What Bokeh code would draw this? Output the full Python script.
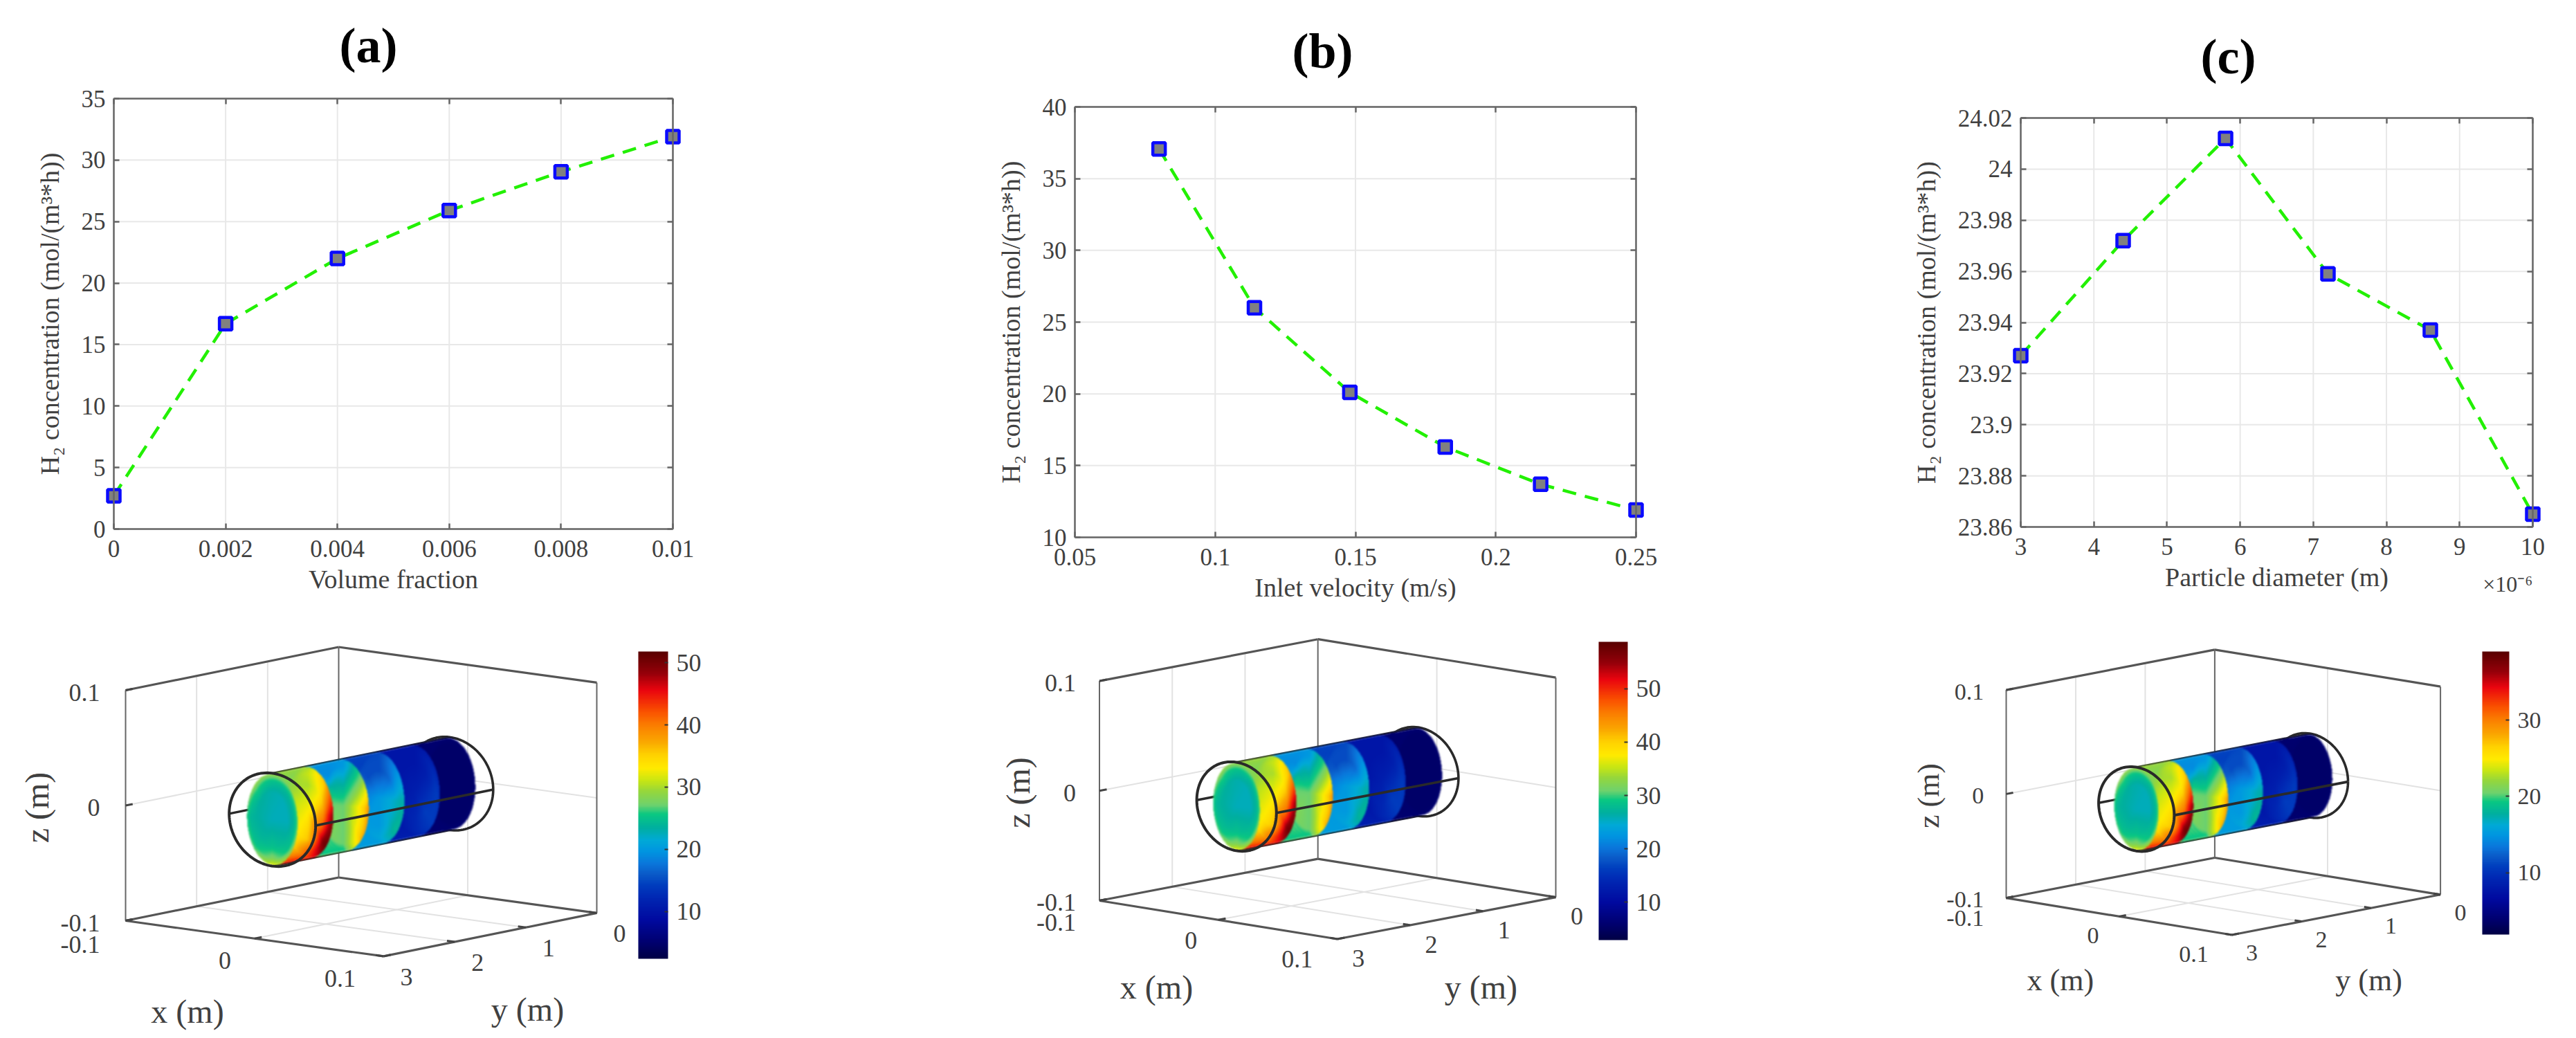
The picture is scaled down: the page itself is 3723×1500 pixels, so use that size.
import numpy as np
from bokeh.embed import file_html
from bokeh.resources import INLINE
from bokeh.core.properties import value
from bokeh.layouts import column, row
from bokeh.models import ColorBar, FixedTicker, LinearAxis, LinearColorMapper, Range1d
from bokeh.plotting import figure

# ---------- data: line charts ----------
volume_fraction = [0, 0.002, 0.004, 0.006, 0.008, 0.01]
conc_a = [2.7, 16.7, 22.0, 25.9, 29.05, 31.9]
xticks_a = [0, 0.002, 0.004, 0.006, 0.008, 0.01]
xlabels_a = ["0", "0.002", "0.004", "0.006", "0.008", "0.01"]
yticks_a = [0, 5, 10, 15, 20, 25, 30, 35]
ylabels_a = ["0", "5", "10", "15", "20", "25", "30", "35"]

inlet_velocity = [0.08, 0.114, 0.148, 0.182, 0.216, 0.25]
conc_b = [37.07, 26.0, 20.1, 16.3, 13.7, 11.9]
xticks_b = [0.05, 0.1, 0.15, 0.2, 0.25]
xlabels_b = ["0.05", "0.1", "0.15", "0.2", "0.25"]
yticks_b = [10, 15, 20, 25, 30, 35, 40]
ylabels_b = ["10", "15", "20", "25", "30", "35", "40"]

particle_diameter = [3, 4.4, 5.8, 7.2, 8.6, 10]
conc_c = [23.927, 23.972, 24.012, 23.959, 23.937, 23.865]
xticks_c = [3, 4, 5, 6, 7, 8, 9, 10]
xlabels_c = ["3", "4", "5", "6", "7", "8", "9", "10"]
yticks_c = [23.86, 23.88, 23.9, 23.92, 23.94, 23.96, 23.98, 24, 24.02]
ylabels_c = ["23.86", "23.88", "23.9", "23.92", "23.94", "23.96", "23.98", "24", "24.02"]

# ---------- data: cross-section planes, values per radius (rows) and angle (columns) ----------
plane_y = [2.75, 2.25, 1.75, 1.25, 0.75, 0.25]
radius_stations = [0, 0.6, 0.85, 1.0]
plane1 = [[22.5]*8,
          [22.5, 22.5, 23, 23.5, 23.5, 24, 25, 24],
          [24, 24, 25, 26, 24, 25, 28, 25],
          [27, 27, 29, 29, 26, 27, 32, 29]]
plane2 = [[33]*8,
          [39, 33, 30, 30, 31, 33, 36, 43],
          [46, 35, 31, 29, 29, 33, 42, 50],
          [49, 37, 30, 28, 28, 33, 44, 51]]
plane3 = [[27]*8,
          [33, 27, 22, 23, 27, 28, 27, 32],
          [36, 27, 20, 19, 24, 28, 27, 35],
          [39, 27, 20, 19, 20, 26, 25, 37]]
plane4 = [[20]*8,
          [22, 17, 15, 15, 18, 20, 20, 22],
          [23, 19, 15, 15, 16, 20, 21, 24],
          [23, 19, 15, 14, 15, 20, 20, 24]]
plane5 = [[11]*8,
          [13, 11, 10, 10, 10, 11, 12, 14],
          [14, 12, 10, 10, 10, 10, 12, 14],
          [13, 11, 10, 10, 10, 10, 11, 14]]
plane6 = [[4.5]*8,
          [4.5]*8,
          [4.5]*8,
          [5]*8]
planes = [plane1, plane2, plane3, plane4, plane5, plane6]
cbar_ticks_a = [10, 20, 30, 40, 50]
cbar_ticks_b = [10, 20, 30, 40, 50]
cbar_ticks_c = [10, 20, 30]
cbar_range_a = (2.4, 51.8)
cbar_range_b = (2.9, 58.8)
cbar_range_c = (1.9, 39.0)
ztick_vals = [-0.1, 0, 0.1]
xtick_vals = [-0.1, 0, 0.1]
ytick_vals = [0, 1, 2, 3]

# colours of the bar read from bottom (0) to top (1)
cmap_pos = [0, .05, .125, .2, .236, .274, .31, .35, .386, .425, .47, .5, .545, .58, .62,
            .664, .71, .762, .807, .875, .93, 1]
cmap_r = [0, 0, 0, 0, 0, 10, 10, 0, 0, 0, 10, 110, 150, 200, 255, 255, 250, 250, 250, 235, 150, 90]
cmap_g = [0, 0, 10, 40, 60, 90, 120, 150, 170, 175, 200, 210, 215, 230, 235, 210, 165, 125, 80, 5, 0, 0]
cmap_b = [70, 110, 160, 180, 190, 200, 220, 225, 215, 160, 130, 110, 60, 20, 0, 0, 0, 0, 0, 15, 10, 0]

# ---------- style ----------
SERIF = "Liberation Serif"
INK = "#404040"
AX = "#666666"
TICK_PX = 35
LABEL_PX = 38
COL_X = [0, 1100, 2500, 3715]
ROW_Y = [0, 880, 1492]


def cmap(t):
    t = np.clip(t, 0, 1)
    return (np.interp(t, cmap_pos, cmap_r)/255, np.interp(t, cmap_pos, cmap_g)/255,
            np.interp(t, cmap_pos, cmap_b)/255)


PALETTE = []
for i in range(256):
    r, g, b = cmap(i/255)
    PALETTE.append("#%02x%02x%02x" % (int(r*255), int(g*255), int(b*255)))


def line_panel(col, fl, ft, fw, fh, xs, ys, xr, yr, xt, xl, yt, yl, xlabel, tag, tag_xy,
               ystand, xstand):
    cl, cr = COL_X[col], COL_X[col+1]
    top, bottom = ROW_Y[0], ROW_Y[1]
    sx = (xr[1]-xr[0])/fw
    sy = (yr[1]-yr[0])/fh
    p = figure(width=cr-cl, height=bottom-top, output_backend="svg", toolbar_location=None,
               x_axis_location=None, y_axis_location=None,
               x_range=Range1d(xr[0]-(fl-cl)*sx, xr[1]+(cr-fl-fw)*sx),
               y_range=Range1d(yr[0]-(bottom-ft-fh)*sy, yr[1]+(ft-top)*sy),
               min_border=0, background_fill_color="white", border_fill_color="white")
    p.outline_line_color = None
    p.grid.visible = False

    def axis(side, loc, bounds, ticks, labels):
        ax = LinearAxis(fixed_location=loc, bounds=bounds, ticker=FixedTicker(ticks=ticks),
                        major_label_overrides=dict(zip(ticks, labels)),
                        major_label_text_font=SERIF, major_label_text_font_size=f"{TICK_PX}px",
                        major_label_text_color=INK, axis_label_text_font=SERIF,
                        axis_label_text_font_style="normal",
                        axis_label_text_font_size=f"{LABEL_PX}px", axis_label_text_color=INK,
                        axis_line_color=AX, axis_line_width=2.5, major_tick_in=8, major_tick_out=0,
                        major_tick_line_color=AX, major_tick_line_width=2.5,
                        minor_tick_line_color=None)
        p.add_layout(ax, side)
        return ax

    # grid
    p.segment(xt, [yr[0]]*len(xt), xt, [yr[1]]*len(xt), line_color="#e8e8e8", line_width=2)
    p.segment([xr[0]]*len(yt), yt, [xr[1]]*len(yt), yt, line_color="#e8e8e8", line_width=2)

    xa = axis("below", yr[0], xr, xt, xl)
    ya = axis("left", xr[0], yr, yt, yl)
    axis("above", yr[1], xr, xt, [""]*len(xt)).major_label_standoff = 0
    axis("right", xr[1], yr, yt, [""]*len(yt)).major_label_standoff = 0
    xa.axis_label = xlabel
    ya.axis_label = "H₂ concentration (mol/(m³*h))"
    ya.major_label_standoff = 12
    ya.axis_label_standoff = ystand
    xa.major_label_standoff = 16
    xa.axis_label_standoff = xstand

    p.line(xs, ys, line_color="#22f000", line_width=4.5, line_dash="20 13")
    p.scatter(xs, ys, marker="square", size=18, fill_color="#808080",
              line_color="#0a0aff", line_width=4.5)

    def to_data(px, py):
        return xr[0]+(px-fl)*sx, yr[1]-(py-ft)*sy

    tx, ty = to_data(*tag_xy)
    p.text([tx], [ty], text=[tag], text_font=value(SERIF), text_font_style="bold",
           text_font_size=value("72px"), text_color="black", text_align="center",
           text_baseline="middle")
    return p, to_data


pa, _ = line_panel(0, 164, 142, 808, 622, volume_fraction, conc_a, (0, 0.01), (0, 35),
                   xticks_a, xlabels_a, yticks_a, ylabels_a, "Volume fraction", "(a)", (532, 65), 22, 8)
pb, _ = line_panel(1, 1553, 154, 811, 622, inlet_velocity, conc_b, (0.05, 0.25), (10, 40),
                   xticks_b, xlabels_b, yticks_b, ylabels_b, "Inlet velocity (m/s)", "(b)", (1911, 73), 22, 8)
pc, conv_c = line_panel(2, 2920, 170, 740, 591, particle_diameter, conc_c, (3, 10), (23.86, 24.02),
                        xticks_c, xlabels_c, yticks_c, ylabels_c, "Particle diameter (m)", "(c)", (3220, 81), 22, 8)
mx, my = conv_c(3660, 843)
pc.text([mx], [my], text=["×10⁻⁶"], text_font=value(SERIF), text_font_size=value("32px"),
        text_color=INK, text_align="right", text_baseline="middle")


def cube_panel(col, L, F, B, ztop, cbar_box, cbar_range, cbar_ticks, tick_px, label_px):
    cl, cr = COL_X[col], COL_X[col+1]
    rt, rb = ROW_Y[1], ROW_Y[2]
    p = figure(width=cr-cl, height=rb-rt, output_backend="svg", toolbar_location=None,
               x_range=Range1d(cl, cr), y_range=Range1d(-rb, -rt), min_border=0,
               background_fill_color="white", border_fill_color="white")
    p.axis.visible = False
    p.grid.visible = False
    p.outline_line_color = None

    L_, F_, B_ = np.array(L, float), np.array(F, float), np.array(B, float)
    ex = (F_-L_)/0.2
    ey = (L_-B_)/3.0
    ez = np.array([0.0, (ztop-L_[1])/0.2])
    org = B_ + 0.1*ex + 0.1*ez  # x=0, y=0, z=0

    def proj(x, y, z):
        x, y, z = np.asarray(x, float), np.asarray(y, float), np.asarray(z, float)
        return org[0]+x*ex[0]+y*ey[0]+z*ez[0], org[1]+x*ex[1]+y*ey[1]+z*ez[1]

    def seg(a, b, color, w):
        x, y = proj([a[0], b[0]], [a[1], b[1]], [a[2], b[2]])
        p.line(x, -y, line_color=color, line_width=w)

    # grid
    for yv in (1, 2):
        seg((-.1, yv, -.1), (-.1, yv, .1), "#e2e2e2", 2)
        seg((-.1, yv, -.1), (.1, yv, -.1), "#e2e2e2", 2)
    seg((0, 0, -.1), (0, 0, .1), "#e2e2e2", 2)
    seg((0, 0, -.1), (0, 3, -.1), "#e2e2e2", 2)
    seg((-.1, 3, 0), (-.1, 0, 0), "#e2e2e2", 2)
    seg((-.1, 0, 0), (.1, 0, 0), "#e2e2e2", 2)
    # box
    box = "#555555"
    for a, b in [((-.1, 3, .1), (-.1, 0, .1)), ((-.1, 0, .1), (.1, 0, .1)),
                 ((-.1, 3, -.1), (-.1, 0, -.1)), ((-.1, 0, -.1), (.1, 0, -.1)),
                 ((-.1, 3, -.1), (.1, 3, -.1)), ((.1, 3, -.1), (.1, 0, -.1))]:
        seg(a, b, box, 3.2)
    for a, b in [((-.1, 3, -.1), (-.1, 3, .1)), ((-.1, 0, -.1), (-.1, 0, .1)),
                 ((.1, 0, -.1), (.1, 0, .1))]:
        seg(a, b, "#666666", 2)
    # ticks
    for yv in ytick_vals:
        seg((.1, yv, -.1), (.094, yv, -.1), "#444444", 3)
    for xv in xtick_vals:
        seg((xv, 3, -.1), (xv, 2.9, -.1), "#444444", 3)
    for zv in ztick_vals:
        seg((-.1, 3, zv), (-.1, 2.9, zv), "#444444", 3)

    t = np.array([i/119*2*np.pi for i in range(120)])
    ring_rx, ring_rz, disc_rx, disc_rz = 0.0335, 0.0403, 0.0197, 0.0395
    ink = "#2a2a2a"
    # back ring + hidden silhouette lines
    rx, ry = proj(ring_rx*np.cos(t), np.full(120, plane_y[-1]), ring_rz*np.sin(t))
    p.line(rx, -ry, line_color=ink, line_width=3.6)
    seg((-ring_rx, plane_y[0], 0), (-ring_rx, plane_y[-1], 0), ink, 3.4)
    seg((0, plane_y[0], ring_rz), (0, plane_y[-1], ring_rz), ink, 3)
    seg((0, plane_y[0], -ring_rz), (0, plane_y[-1], -ring_rz), ink, 3)

    # coloured planes, painted back to front into one RGBA picture
    lo, hi = cbar_range
    alo, ahi = cbar_range_a
    cx0, cy0 = proj(0, plane_y[0], 0)
    cx1, cy1 = proj(0, plane_y[-1], 0)
    hw = disc_rx*ex[0]+12
    hh = abs(disc_rz*ez[1])+disc_rx*abs(ex[1])+12
    xmin, xmax = int(cx0-hw), int(cx1+hw)
    ymin, ymax = int(cy1-hh), int(cy0+hh)
    gx, gy = np.meshgrid(np.arange(xmin, xmax)+.5, np.arange(ymin, ymax)+.5)
    rgb = np.ones(gx.shape+(3,))
    alpha = np.zeros(gx.shape)
    M = np.linalg.inv(np.array([[ex[0], ez[0]], [ex[1], ez[1]]]))
    Rst = np.array(radius_stations)
    for k in range(len(planes)-1, -1, -1):
        yv, table = plane_y[k], planes[k]
        sweep = [0.0] if k == 0 else [0.5, 0.45, 0.4, 0.35, 0.3, 0.25, 0.2, 0.15, 0.1, 0.05, 0.0]
        for off in sweep:
            ox, oy = proj(0, yv+off, 0)
            dx, dy = gx-ox, gy-oy
            lx = M[0, 0]*dx+M[0, 1]*dy
            lz = M[1, 0]*dx+M[1, 1]*dy
            u, v = lx/disc_rx, lz/disc_rz
            r = np.hypot(u, v)
            th = np.mod(np.arctan2(v, u), 2*np.pi)/(np.pi/4)
            i0 = np.floor(th).astype(int) % 8
            i1 = (i0+1) % 8
            fa = th-np.floor(th)
            j = np.clip(np.searchsorted(Rst, r)-1, 0, 2)
            fr = np.clip((r-Rst[j])/(Rst[j+1]-Rst[j]), 0, 1)
            tb = np.array(table, float)
            val = ((1-fr)*((1-fa)*tb[j, i0]+fa*tb[j, i1]) +
                   fr*((1-fa)*tb[j+1, i0]+fa*tb[j+1, i1]))
            frac = (val-alo)/(ahi-alo)
            cr_, cg_, cb_ = cmap(frac)
            m = r <= 1
            rgb[m, 0], rgb[m, 1], rgb[m, 2] = cr_[m], cg_[m], cb_[m]
            alpha[m] = 1.0
    # soft edges
    pm = np.dstack([rgb*alpha[..., None], alpha])
    for _ in range(2):
        s = np.zeros_like(pm)
        for a in (-1, 0, 1):
            for b in (-1, 0, 1):
                s += np.roll(np.roll(pm, a, 0), b, 1)
        pm = s/9
    al = np.maximum(pm[..., 3], 1e-6)
    out = np.clip(pm[..., :3]/al[..., None], 0, 1)
    img = np.zeros(gx.shape, dtype=np.uint32)
    view = img.view(dtype=np.uint8).reshape(gx.shape+(4,))
    view[..., 0] = (out[..., 0]*255).astype(np.uint8)
    view[..., 1] = (out[..., 1]*255).astype(np.uint8)
    view[..., 2] = (out[..., 2]*255).astype(np.uint8)
    view[..., 3] = (pm[..., 3]*255).astype(np.uint8)
    # row 0 of an image sits at its lowest data y, so turn it over for the -y axis
    p.image_rgba(image=[img[::-1]], x=[xmin], y=[-ymax], dw=[xmax-xmin], dh=[ymax-ymin])

    # front ring and right silhouette on top
    rx, ry = proj(ring_rx*np.cos(t), np.full(120, plane_y[0]), ring_rz*np.sin(t))
    p.line(rx, -ry, line_color=ink, line_width=4)
    seg((ring_rx, plane_y[0], 0), (ring_rx, plane_y[-1], 0), ink, 3.6)

    # texts
    s = (F_[0]-L_[0])/373.0

    def txt(x, y, z, text, ox, oy, size, align="center", angle=0.0):
        px_, py_ = proj(x, y, z)
        p.text([px_+ox*s], [-(py_+oy*s)], text=[text], text_font=value(SERIF),
               text_font_size=value(f"{size}px"), text_color=INK, text_align=align,
               text_baseline="middle", angle=angle)

    for zv, lab in zip(ztick_vals, ["-0.1", "0", "0.1"]):
        txt(-.1, 3, zv, lab, -37, 3, tick_px, "right")
    for xv, lab, ox, oy, al_ in zip(xtick_vals, ["-0.1", "0", "0.1"],
                                    [-37, -43, -63], [34, 32, 32], ["right", "center", "center"]):
        txt(xv, 3, -.1, lab, ox, oy, tick_px, al_)
    for yv, lab in zip(ytick_vals, ["0", "1", "2", "3"]):
        txt(.1, yv, -.1, lab, 33, 30, tick_px)
    txt(0, 3, -.1, "x (m)", -97, 105, label_px)
    txt(.1, 1.5, -.1, "y (m)", 54, 108, label_px)
    txt(-.1, 3, 0, "z (m)", -128, 3, label_px, "center", np.pi/2)

    # colour bar
    x0, x1, y0, y1 = cbar_box
    mapper = LinearColorMapper(palette=PALETTE, low=lo, high=hi)
    cb = ColorBar(color_mapper=mapper, width=x1-x0, height=y1-y0,
                  location=(x0-cl, rb-y1), padding=0, margin=0,
                  ticker=FixedTicker(ticks=cbar_ticks),
                  major_label_text_font=SERIF, major_label_text_font_size=f"{tick_px}px",
                  major_label_text_color=INK, label_standoff=12,
                  major_tick_in=5, major_tick_line_color="#333333", major_tick_line_width=2,
                  minor_tick_line_color=None, bar_line_color=None,
                  background_fill_color=None, border_line_color=None)
    p.add_layout(cb, "center")
    return p


qa = cube_panel(0, (181, 1330), (554, 1381.4), (489, 1267.5), 997, (922, 965, 941, 1385),
                cbar_range_a, cbar_ticks_a, 36, 48)
qb = cube_panel(1, (1588.5, 1301), (1932.3, 1356.5), (1904.2, 1240.6), 983.6, (2310, 2352, 927, 1358),
                cbar_range_b, cbar_ticks_b, 36, 48)
qc = cube_panel(2, (2899, 1297.2), (3225.2, 1350.5), (3200.4, 1239), 996.6, (3587, 3626, 941, 1350),
                cbar_range_c, cbar_ticks_c, 34, 44)

page = column(row(pa, pb, pc, spacing=0), row(qa, qb, qc, spacing=0), spacing=0)
open("out.html", "w").write(file_html(page, INLINE))
